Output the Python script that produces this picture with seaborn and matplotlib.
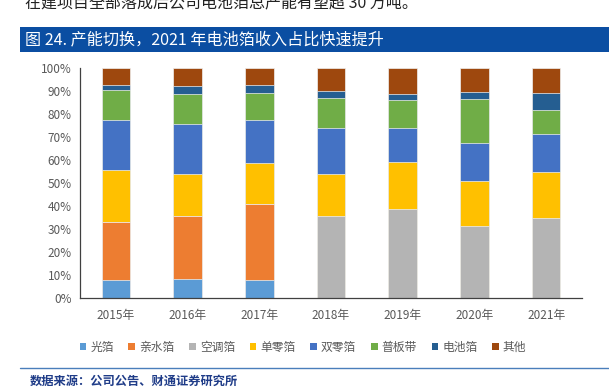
import matplotlib
matplotlib.use("Agg")
import matplotlib.pyplot as plt
import seaborn as sns
import pandas as pd
import numpy as np
from matplotlib.patches import Patch
from matplotlib.lines import Line2D

years = ["2015年", "2016年", "2017年", "2018年", "2019年", "2020年", "2021年"]
series_names = ["光箔", "亲水箔", "空调箔", "单零箔", "双零箔", "普板带", "电池箔", "其他"]
guang   = [7.7, 8.1, 7.7, 0.0, 0.0, 0.0, 0.0]
qinshui = [25.2, 27.4, 33.1, 0.0, 0.0, 0.0, 0.0]
kongtiao = [0.0, 0.0, 0.0, 35.6, 38.5, 31.1, 35.0]
danling = [22.8, 18.5, 18.1, 18.4, 20.8, 19.7, 19.6]
shuangling = [21.9, 21.8, 18.5, 20.1, 14.8, 16.5, 16.5]
puban = [12.7, 12.9, 11.7, 12.7, 11.9, 19.2, 10.8]
dianchi = [2.2, 3.6, 3.7, 3.1, 2.9, 3.2, 7.1]
qita = [7.5, 7.7, 7.2, 10.1, 11.1, 10.3, 11.0]
yticks = [0, 10, 20, 30, 40, 50, 60, 70, 80, 90, 100]

colors = ["#5B9BD5", "#ED7D31", "#B4B4B4", "#FFC000", "#4472C4", "#70AD47", "#255E91", "#9E480E"]

sns.set_theme(style="white")
plt.rcParams['font.family'] = ['Noto Sans CJK SC', 'DejaVu Sans']

W, H = 609, 392
fig = plt.figure(figsize=(W / 100, H / 100), dpi=100)
ax = fig.add_axes([80 / W, 1 - 298 / H, (582 - 80) / W, (298 - 68) / H])

data = [guang, qinshui, kongtiao, danling, shuangling, puban, dianchi, qita]
cum = np.zeros(len(years))
cums = []
for s in data:
    cum = cum + np.array(s)
    cums.append(cum.copy())

# draw from top series down so lower segments cover upper cumulative bars
for i in reversed(range(len(series_names))):
    d = pd.DataFrame({"year": years, "val": cums[i] / 100.0})
    sns.barplot(data=d, x="year", y="val", color=colors[i], saturation=1,
                width=0.4, ax=ax, edgecolor="#f0f0f0", linewidth=0.5, zorder=2)

ax.set_xlim(-0.5, len(years) - 0.5)
ax.set_ylim(0, 1.0)
ax.set_xlabel("")
ax.set_ylabel("")
ax.set_yticks([v / 100 for v in yticks])
ax.set_yticklabels([f"{v}%" for v in yticks], color="#595959", fontsize=8.5)
ax.set_xticks(np.arange(-0.5, len(years), 1.0))
ax.set_xticklabels([""] * (len(years) + 1))
ax.set_xticks(np.arange(len(years)), minor=True)
ax.set_xticklabels(years, minor=True, color="#595959", fontsize=8.5)
ax.tick_params(axis="x", which="major", length=4, width=0.8, color="#404040", direction="out")
ax.tick_params(axis="x", which="minor", length=0, pad=8)
ax.tick_params(axis="y", which="major", length=3, width=0.8, color="#404040", direction="out", pad=3)
for sp in ["top", "right"]:
    ax.spines[sp].set_visible(False)
for sp in ["left", "bottom"]:
    ax.spines[sp].set_color("#404040")
    ax.spines[sp].set_linewidth(0.9)

handles = [Patch(facecolor=c, edgecolor="none") for c in colors]
fig.legend(handles, series_names, loc="center", bbox_to_anchor=(303 / W, 1 - 347 / H),
           ncol=8, frameon=False, fontsize=8.5, handlelength=0.55, handleheight=0.55,
           handletextpad=0.35, columnspacing=1.25, labelcolor="#595959")

# top text (partially cropped at the top edge, as in the reference)
fig.text(25 / W, 1 - 4 / H, "在建项目全部落成后公司电池箔总产能有望超 30 万吨。",
         fontsize=11.5, color="#222222", va="center", ha="left")

# banner
banner = plt.Rectangle((20 / W, 1 - 52 / H), 1 - 20 / W, 25 / H, transform=fig.transFigure,
                       facecolor="#0B4EA2", edgecolor="none")
fig.patches.append(banner)
fig.text(25 / W, 1 - 40 / H, "图 24. 产能切换，2021 年电池箔收入占比快速提升",
         fontsize=11.6, color="white", va="center", ha="left")

# bottom line and source
fig.add_artist(Line2D([20 / W, 1.0], [1 - 368 / H, 1 - 368 / H], transform=fig.transFigure,
                      color="#4A7EBB", linewidth=1.0))
fig.text(30 / W, 1 - 381 / H, "数据来源：公司公告、财通证券研究所",
         fontsize=8.8, color="#1F3C88", fontweight="bold", va="center", ha="left")

fig.savefig("out.png", dpi=100)
